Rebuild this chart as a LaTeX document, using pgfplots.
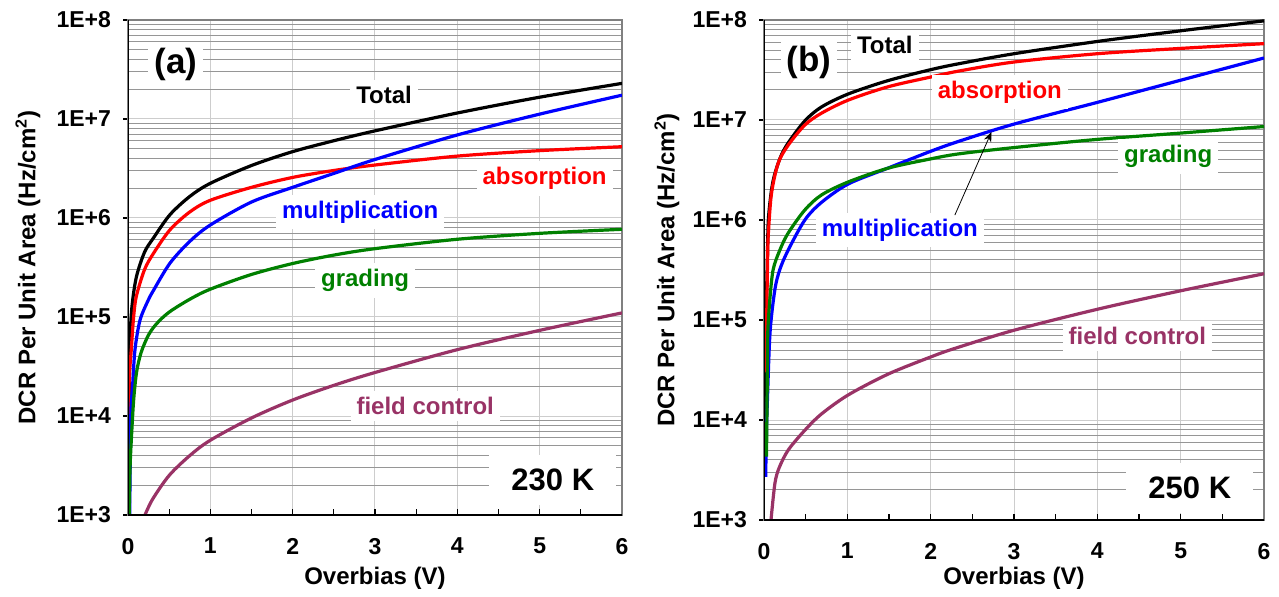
\documentclass[border=0pt]{standalone}
\usepackage{fontspec}
\setmainfont{Liberation Sans}
\usepackage{pgfplots}
\pgfplotsset{compat=1.18}
\usetikzlibrary{arrows.meta}
\definecolor{fcpurple}{RGB}{153,51,102}
\definecolor{dgreen}{RGB}{0,128,0}
\definecolor{gridmaj}{RGB}{205,205,205}
\definecolor{gridmin}{RGB}{150,150,150}
\tikzset{lbl/.style={fill=white, inner sep=3pt, font=\bfseries\fontsize{12}{14}\selectfont}}
\pgfplotsset{
 dcr/.style={
  scale only axis,
  xmin=0, xmax=6, ymin=1e3, ymax=1e8,
  xtick={0,1,2,3,4,5,6}, xticklabels={0,1,2,3,4,5,6},
  ytick={1e3,1e4,1e5,1e6,1e7,1e8},
  yticklabels={1E+3,1E+4,1E+5,1E+6,1E+7,1E+8},
  extra x ticks={0.5,1.5,2.5,3.5,4.5,5.5}, extra x tick labels={},
  extra x tick style={grid=none},
  xmajorgrids, ymajorgrids, yminorgrids,
  major grid style={gridmaj, line width=0.5pt},
  minor grid style={gridmin, line width=0.5pt},
  tick pos=left, tick align=inside,
  major tick length=3pt, minor tick length=0pt,
  ytick style={xshift=-2.5pt, black, line width=0.6pt},
  xtick style={black, line width=0.6pt},
  axis line style={gray, line width=0.6pt},
  yticklabel style={font=\bfseries\fontsize{11.5}{12}\selectfont, xshift=-5pt},
  xticklabel style={font=\bfseries\fontsize{11.5}{12}\selectfont, yshift=-8pt},
  xlabel={Overbias (V)},
  ylabel={DCR Per Unit Area (Hz/cm\textsuperscript{2})},
  every axis plot/.append style={line width=1.6pt, mark=none, smooth, tension=0.5},
 }
}
\begin{document}
\begin{tikzpicture}
\path (0,0) rectangle (639.5pt,298pt);
% ---------------- panel (a)
\begin{semilogyaxis}[dcr, at={(64pt,40.5pt)}, anchor=south west, width=247pt, height=247.5pt,
  every axis y label/.style={at={(axis description cs:0,0.5)}, xshift=-50pt, rotate=90, anchor=center, font=\bfseries\fontsize{12}{14}\selectfont},
  every axis x label/.style={at={(axis description cs:0.5,0)}, yshift=-31.5pt, anchor=center, font=\bfseries\fontsize{12}{14}\selectfont}]
\addplot[black] coordinates {(0.005,1000)(0.012,1e4)(0.024,5e4)(0.045,1.2e5)(0.1,2.5e5)(0.2,4.5e5)(0.31,6.3e5)(0.51,1.08e6)(0.75,1.65e6)(1.0,2.24e6)(1.5,3.39e6)(2,4.68e6)(2.5,6.03e6)(3,7.59e6)(4,1.15e7)(5,1.66e7)(6,2.29e7)};
\addplot[red] coordinates {(0.006,1000)(0.01,1e4)(0.016,2.5e4)(0.04,4.7e4)(0.065,9.3e4)(0.1,1.6e5)(0.2,3e5)(0.31,4.4e5)(0.51,7.6e5)(0.75,1.15e6)(1.0,1.51e6)(1.5,2.04e6)(2,2.57e6)(2.5,3.02e6)(3,3.43e6)(4,4.22e6)(5,4.79e6)(6,5.25e6)};
\addplot[blue] coordinates {(0.02,1000)(0.028,4e3)(0.036,1.15e4)(0.057,2.1e4)(0.085,4.7e4)(0.146,9.3e4)(0.246,1.48e5)(0.31,1.86e5)(0.51,3.5e5)(0.75,5.8e5)(1.0,8.5e5)(1.5,1.45e6)(2,2.04e6)(2.5,2.82e6)(3,3.9e6)(4,6.9e6)(5,1.12e7)(6,1.74e7)};
\addplot[dgreen] coordinates {(0.015,1000)(0.025,3e3)(0.045,6.8e3)(0.07,1.5e4)(0.105,2.8e4)(0.16,4.4e4)(0.25,6.6e4)(0.35,8.6e4)(0.5,1.12e5)(0.75,1.51e5)(1.0,1.91e5)(1.5,2.69e5)(2,3.47e5)(2.5,4.22e5)(3,4.9e5)(4,6.1e5)(5,7.0e5)(6,7.69e5)};
\addplot[fcpurple] coordinates {(0.206,1000)(0.3,1.45e3)(0.5,2.51e3)(0.75,3.98e3)(1.0,5.69e3)(1.5,9.55e3)(2,1.45e4)(2.5,2.04e4)(3,2.75e4)(4,4.68e4)(5,7.33e4)(6,1.1e5)};
\node[lbl, font=\bfseries\fontsize{17.5}{20}\selectfont] at (axis cs:0.58,3.55e7) {(a)};
\node[lbl] at (axis cs:3.11,1.74e7) {Total};
\node[lbl, text=red] at (axis cs:5.06,2.5e6) {absorption};
\node[lbl, text=blue] at (axis cs:2.82,1.15e6) {multiplication};
\node[lbl, text=dgreen] at (axis cs:2.88,2.34e5) {grading};
\node[lbl, text=fcpurple] at (axis cs:3.61,1.26e4) {field control};
\node[lbl, inner xsep=11pt, inner ysep=7pt, font=\bfseries\fontsize{15.5}{18}\selectfont] at (axis cs:5.16,2.24e3) {230 K};
\draw[black, line width=1pt] (rel axis cs:0,1) -- (rel axis cs:0,0) -- (rel axis cs:1,0);
\end{semilogyaxis}
% ---------------- panel (b)
\begin{semilogyaxis}[dcr, at={(382pt,38pt)}, anchor=south west, width=250pt, height=250pt,
  every axis y label/.style={at={(axis description cs:0,0.5)}, xshift=-48.5pt, rotate=90, anchor=center, font=\bfseries\fontsize{12}{14}\selectfont},
  every axis x label/.style={at={(axis description cs:0.5,0)}, yshift=-29pt, anchor=center, font=\bfseries\fontsize{12}{14}\selectfont}]
\addplot[black] coordinates {(0.01,1e4)(0.025,1e5)(0.04,4e5)(0.052,1e6)(0.09,2e6)(0.13,2.9e6)(0.2,4.3e6)(0.29,5.9e6)(0.49,9.8e6)(0.69,1.35e7)(1.01,1.82e7)(1.49,2.48e7)(2.01,3.2e7)(2.35,3.67e7)(3,4.6e7)(4,6.1e7)(5,7.8e7)(6,9.8e7)};
\addplot[red] coordinates {(0.025,3e4)(0.035,1.5e5)(0.045,5e5)(0.055,8e5)(0.09,1.85e6)(0.17,3.7e6)(0.29,5.6e6)(0.49,8.9e6)(0.69,1.17e7)(1.01,1.58e7)(1.49,2.15e7)(2.01,2.7e7)(2.35,3.1e7)(3,3.8e7)(4,4.6e7)(5,5.2e7)(6,5.8e7)};
\addplot[blue] coordinates {(0.02,2.7e3)(0.03,8e3)(0.04,1.5e4)(0.072,7.4e4)(0.13,2e5)(0.19,3.2e5)(0.29,5e5)(0.49,1e6)(0.69,1.5e6)(1.01,2.29e6)(1.49,3.31e6)(2.01,4.9e6)(2.35,6.17e6)(3,9.1e6)(4,1.5e7)(5,2.5e7)(6,4.17e7)};
\addplot[dgreen] coordinates {(0.03,4.3e3)(0.04,3e4)(0.045,7.4e4)(0.07,1.6e5)(0.11,3.2e5)(0.19,5e5)(0.29,7.4e5)(0.49,1.26e6)(0.69,1.78e6)(1.01,2.4e6)(1.49,3.3e6)(2.01,4.1e6)(2.35,4.6e6)(3,5.3e6)(4,6.4e6)(5,7.4e6)(6,8.6e6)};
\addplot[fcpurple] coordinates {(0.084,1000)(0.13,2.3e3)(0.18,3.3e3)(0.29,5e3)(0.49,7.9e3)(0.69,1.15e4)(1.01,1.78e4)(1.49,2.88e4)(2.01,4.3e4)(2.29,5.2e4)(3,7.9e4)(4,1.28e5)(5,1.96e5)(6,2.9e5)};
\node[lbl, font=\bfseries\fontsize{17.5}{20}\selectfont] at (axis cs:0.54,3.8e7) {(b)};
\node[lbl] at (axis cs:1.45,5.6e7) {Total};
\node[lbl, text=red] at (axis cs:2.83,1.9e7) {absorption};
\node[lbl, text=blue] at (axis cs:1.63,7.9e5) {multiplication};
\node[lbl, text=dgreen] at (axis cs:4.85,4.3e6) {grading};
\node[lbl, text=fcpurple] at (axis cs:4.48,6.9e4) {field control};
\node[lbl, inner xsep=11pt, inner ysep=7pt, font=\bfseries\fontsize{15.5}{18}\selectfont] at (axis cs:5.11,2.1e3) {250 K};
\draw[-{Stealth[length=5pt,width=4pt]}, black, line width=0.4pt] (axis cs:2.29,1.12e6) -- (axis cs:2.73,7.6e6);
\draw[black, line width=1pt] (rel axis cs:0,1) -- (rel axis cs:0,0) -- (rel axis cs:1,0);
\end{semilogyaxis}
\end{tikzpicture}
\end{document}
